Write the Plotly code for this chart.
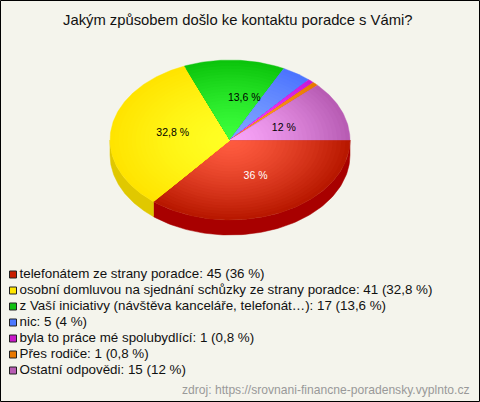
import numpy as np
import plotly.graph_objects as go

title = "Jakým způsobem došlo ke kontaktu poradce s Vámi?"
source = "zdroj: https://srovnani-financne-poradensky.vyplnto.cz"
categories = ["telefonátem ze strany poradce", "osobní domluvou na sjednání schůzky ze strany poradce",
              "z Vaší iniciativy (návštěva kanceláře, telefonát…)", "nic", "byla to práce mé spolubydlící",
              "Přes rodiče", "Ostatní odpovědi"]
values = [45, 41, 17, 5, 1, 1, 15]
percent_labels = ["36 %", "32,8 %", "13,6 %", "4 %", "0,8 %", "0,8 %", "12 %"]
inner_colors = ["#ff5c40", "#ffff24", "#3cff3c", "#80a4ff", "#ff40ff", "#ffa030", "#f8a4f8"]
outer_colors = ["#b81800", "#ffe400", "#0cc40c", "#4c74ff", "#c818d8", "#e87800", "#b85cb4"]
side_colors = ["#a80000", "#e0c800", "#0a9a0a", "#3c5cc8", "#a010a8", "#b85c00", "#904890"]
swatch_colors = ["#c81e00", "#ffe600", "#10c010", "#4c78ff", "#c818c8", "#e87800", "#b85cb4"]
label_colors = ["#ffffff", "#000000", "#000000", None, None, None, "#000000"]
label_nudge = [(0, 0), (2, -1), (12, -2), (0, 0), (0, 0), (0, 0), (-2, 3)]

CX, CY, RX, RY, DEPTH = 230, 140, 120, 80, 15
BG = "#f4f4ec"
RINGS = 28


def rgb(h):
    return np.array([int(h[i:i + 2], 16) for i in (1, 3, 5)], float)


def mix(a, b, t):
    c = rgb(a) * (1 - t) + rgb(b) * t
    return f"rgb({c[0]:.0f},{c[1]:.0f},{c[2]:.0f})"


fig = go.Figure()
total = sum(values)
edges = np.concatenate([[0], np.cumsum(values)]) / total * 2 * np.pi

# extruded side: only the front half of the ellipse is visible
for i in range(len(values)):
    a0, a1 = edges[i], min(edges[i + 1], np.pi)
    if a0 >= np.pi:
        continue
    t = np.linspace(a0, a1, 90)
    xs = CX + RX * np.cos(t)
    ys = CY + RY * np.sin(t)
    fig.add_trace(go.Scatter(
        x=np.concatenate([xs, xs[::-1], xs[:1]]),
        y=np.concatenate([ys, ys[::-1] + DEPTH, ys[:1]]),
        mode="lines", fill="toself", fillcolor=side_colors[i],
        line=dict(width=0.5, color=side_colors[i]), hoverinfo="skip", showlegend=False))

# top face: nested sectors give the radial shading
for i in range(len(values)):
    t = np.linspace(edges[i], edges[i + 1], max(4, int((edges[i + 1] - edges[i]) * 60)))
    for k in range(RINGS, 0, -1):
        s = k / RINGS
        xs = CX + s * RX * np.cos(t)
        ys = CY + s * RY * np.sin(t)
        c = mix(inner_colors[i], outer_colors[i], s ** 1.4)
        fig.add_trace(go.Scatter(
            x=np.concatenate([[CX], xs, [CX]]), y=np.concatenate([[CY], ys, [CY]]),
            mode="lines", fill="toself", fillcolor=c,
            line=dict(width=0.4 if k == RINGS else 0, color=c), hoverinfo="skip", showlegend=False))

# percent labels on big slices
for i in range(len(values)):
    if label_colors[i] is None:
        continue
    m = (edges[i] + edges[i + 1]) / 2
    fig.add_trace(go.Scatter(
        x=[CX + 0.5 * RX * np.cos(m) + label_nudge[i][0]], y=[CY + 0.5 * RY * np.sin(m) + label_nudge[i][1]],
        mode="text", text=[percent_labels[i]], textposition="middle center",
        textfont=dict(family="Liberation Sans", size=10.5, color=label_colors[i]),
        hoverinfo="skip", showlegend=False))

# legend
row_y = [274.5 + 16 * j for j in range(len(categories))]
fig.add_trace(go.Scatter(
    x=[13] * len(categories), y=row_y, mode="markers",
    marker=dict(symbol="square", size=7, color=swatch_colors, line=dict(color="#222222", width=1)),
    hoverinfo="skip", showlegend=False))
fig.add_trace(go.Scatter(
    x=[19.5] * len(categories), y=row_y, mode="text",
    text=[f"{c}: {v} ({p})" for c, v, p in zip(categories, values, percent_labels)],
    textposition="middle right",
    textfont=dict(family="Liberation Sans", size=13.36, color="#111111"),
    hoverinfo="skip", showlegend=False))

fig.add_annotation(x=238, y=20, text=title, showarrow=False, xanchor="center", yanchor="middle",
                   font=dict(family="Liberation Sans", size=14.8, color="#111111"))
fig.add_annotation(x=471, y=390, text=source, showarrow=False, xanchor="right", yanchor="middle",
                   font=dict(family="Liberation Sans", size=12.1, color="#999999"))

fig.update_layout(
    width=480, height=402, autosize=False, margin=dict(l=0, r=0, t=0, b=0),
    paper_bgcolor=BG, plot_bgcolor=BG,
    xaxis=dict(range=[0, 480], visible=False, fixedrange=True),
    yaxis=dict(range=[402, 0], visible=False, fixedrange=True),
    shapes=[dict(type="rect", xref="x", yref="y", x0=0.5, y0=0.5, x1=479.5, y1=401.5,
                 line=dict(color="#000000", width=1), fillcolor="rgba(0,0,0,0)")],
)
fig.write_html("out.html", config={"displayModeBar": False},
               default_width="480px", default_height="402px",
               post_script="document.body.style.margin='0';")
